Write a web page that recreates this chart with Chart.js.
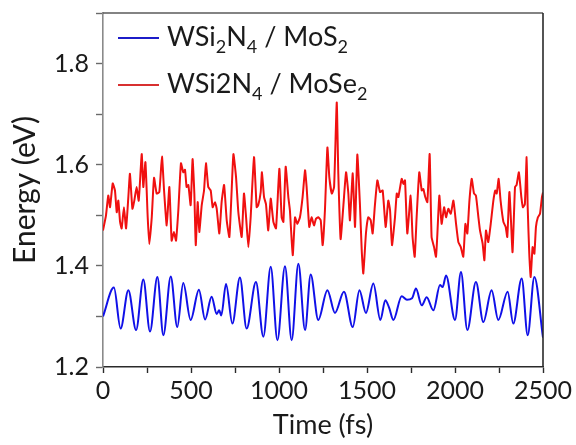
<!DOCTYPE html>
<html>
<head>
<meta charset="utf-8">
<script src="https://cdn.jsdelivr.net/npm/chart.js@4.4.0/dist/chart.umd.min.js"></script>
<style>
  html, body { margin: 0; padding: 0; background: #fff; }
  #wrap { width: 576px; height: 445px; position: relative; }
</style>
</head>
<body>
<div id="wrap"><canvas id="chart"></canvas></div>
<script>
// ---- data (time in fs, energy in eV) ----
const blueTime = [0, 62, 100, 144, 188, 229, 267, 309, 343, 385, 422, 456, 498, 545, 580, 617, 646, 660, 672, 699,
  735, 778, 816, 869, 911, 953, 991, 1034, 1072, 1110, 1148, 1180, 1223, 1275, 1318, 1369, 1419, 1457, 1494, 1536,
  1576, 1604, 1625, 1650, 1697, 1727, 1756, 1778, 1811, 1839, 1877, 1915, 1930, 1949, 2000, 2034, 2070, 2119, 2161,
  2208, 2246, 2299, 2331, 2379, 2413, 2451, 2500];
const blueEnergy = [1.300, 1.357, 1.276, 1.352, 1.273, 1.373, 1.270, 1.378, 1.263, 1.379, 1.279, 1.366, 1.293, 1.353,
  1.294, 1.339, 1.305, 1.312, 1.302, 1.364, 1.286, 1.377, 1.276, 1.368, 1.260, 1.398, 1.253, 1.399, 1.253, 1.404,
  1.273, 1.383, 1.293, 1.352, 1.307, 1.349, 1.279, 1.352, 1.307, 1.365, 1.293, 1.332, 1.318, 1.293, 1.340, 1.333,
  1.336, 1.355, 1.322, 1.338, 1.312, 1.362, 1.358, 1.381, 1.293, 1.388, 1.273, 1.368, 1.289, 1.352, 1.293, 1.349,
  1.286, 1.375, 1.263, 1.378, 1.258];

const redTime = [0, 17, 30, 40, 55, 68, 78, 87, 97, 106, 119, 131, 144, 153, 167, 178, 191, 203, 220, 229, 241, 254,
  263, 277, 290, 305, 320, 335, 347, 362, 377, 390, 403, 415, 428, 443, 456, 466, 475, 485, 498, 509, 519, 527, 538,
  547, 561, 574, 585, 598, 612, 623, 636, 646, 661, 674, 688, 703, 718, 731, 741, 756, 769, 788, 801, 813, 826, 839,
  858, 873, 882, 896, 903, 915, 926, 939, 953, 968, 983, 1002, 1015, 1025, 1038, 1053, 1062, 1078, 1091, 1104, 1119,
  1134, 1148, 1157, 1172, 1185, 1199, 1210, 1223, 1237, 1248, 1261, 1275, 1286, 1300, 1313, 1328, 1337, 1350, 1366,
  1381, 1394, 1403, 1419, 1432, 1445, 1460, 1470, 1479, 1494, 1507, 1521, 1532, 1545, 1559, 1574, 1589, 1606, 1621,
  1631, 1642, 1659, 1669, 1678, 1697, 1707, 1716, 1729, 1748, 1759, 1771, 1782, 1797, 1811, 1820, 1831, 1843, 1856,
  1867, 1881, 1892, 1900, 1911, 1924, 1938, 1949, 1962, 1976, 1991, 2006, 2019, 2033, 2047, 2059, 2070, 2082, 2095,
  2108, 2119, 2133, 2142, 2157, 2167, 2176, 2189, 2203, 2218, 2229, 2237, 2248, 2259, 2275, 2288, 2297, 2309, 2318,
  2327, 2341, 2350, 2363, 2377, 2386, 2397, 2407, 2413, 2422, 2430, 2441, 2451, 2460, 2471, 2483, 2494, 2500];
const redEnergy = [1.470, 1.500, 1.539, 1.516, 1.563, 1.549, 1.506, 1.529, 1.487, 1.474, 1.516, 1.474, 1.536, 1.582,
  1.513, 1.529, 1.556, 1.529, 1.621, 1.556, 1.605, 1.496, 1.443, 1.496, 1.574, 1.543, 1.546, 1.616, 1.549, 1.480,
  1.556, 1.450, 1.467, 1.450, 1.510, 1.603, 1.585, 1.590, 1.556, 1.560, 1.520, 1.611, 1.543, 1.441, 1.526, 1.467,
  1.520, 1.549, 1.603, 1.556, 1.549, 1.516, 1.526, 1.513, 1.464, 1.526, 1.560, 1.490, 1.457, 1.549, 1.621, 1.575,
  1.506, 1.457, 1.543, 1.496, 1.437, 1.496, 1.615, 1.516, 1.520, 1.546, 1.585, 1.536, 1.522, 1.470, 1.533, 1.487,
  1.474, 1.592, 1.496, 1.487, 1.596, 1.536, 1.510, 1.421, 1.496, 1.483, 1.496, 1.536, 1.589, 1.556, 1.477, 1.496,
  1.480, 1.493, 1.496, 1.490, 1.441, 1.510, 1.634, 1.575, 1.543, 1.556, 1.723, 1.582, 1.453, 1.520, 1.585, 1.543,
  1.490, 1.583, 1.477, 1.620, 1.520, 1.431, 1.385, 1.464, 1.496, 1.490, 1.464, 1.520, 1.569, 1.546, 1.549, 1.477,
  1.529, 1.510, 1.441, 1.496, 1.543, 1.536, 1.572, 1.562, 1.569, 1.464, 1.539, 1.457, 1.418, 1.496, 1.585, 1.549,
  1.552, 1.536, 1.526, 1.621, 1.457, 1.437, 1.418, 1.464, 1.539, 1.483, 1.516, 1.496, 1.513, 1.503, 1.529, 1.483,
  1.447, 1.437, 1.418, 1.483, 1.464, 1.529, 1.572, 1.543, 1.539, 1.496, 1.470, 1.444, 1.411, 1.470, 1.447, 1.483,
  1.529, 1.549, 1.543, 1.572, 1.529, 1.487, 1.477, 1.457, 1.546, 1.490, 1.427, 1.556, 1.560, 1.585, 1.536, 1.516,
  1.522, 1.615, 1.516, 1.424, 1.378, 1.437, 1.424, 1.477, 1.496, 1.503, 1.536, 1.545];

// legend text pieces: [text, isSubscript]
const blueLabel = [["WSi", 0], ["2", 1], ["N", 0], ["4", 1], [" / MoS", 0], ["2", 1]];
const redLabel = [["WSi2N", 0], ["4", 1], [" / MoSe", 0], ["2", 1]];

const FONT = "Lato, 'Open Sans', sans-serif";
const INK = "#1a1a1a";
const BLUE = "#1010e8";
const RED = "#f01010";

const toPoints = (xs, ys) => xs.map((x, i) => ({ x, y: ys[i] }));

function drawRich(ctx, parts, x, y, size) {
  let cx = x;
  parts.forEach(([txt, sub]) => {
    ctx.font = `${sub ? Math.round(size * 0.66) : size}px ${FONT}`;
    ctx.fillText(txt, cx, sub ? y + size * 0.26 : y);
    cx += ctx.measureText(txt).width;
  });
}

// frame (top/right) + legend drawn on top of the plot
const framePlugin = {
  id: "frame",
  afterDraw(chart) {
    const { ctx, chartArea: a } = chart;
    ctx.save();
    ctx.lineWidth = 1.6;
    ctx.strokeStyle = "#5a5a5a";
    ctx.beginPath(); ctx.moveTo(a.left, a.top); ctx.lineTo(a.right, a.top); ctx.stroke();
    ctx.strokeStyle = "#2a2a2a";
    ctx.beginPath(); ctx.moveTo(a.right, a.top); ctx.lineTo(a.right, a.bottom); ctx.stroke();

    // legend
    const items = [[blueLabel, "#1c1cc8", 38], [redLabel, "#d83030", 85]];
    ctx.textBaseline = "alphabetic";
    ctx.fillStyle = INK;
    items.forEach(([parts, col, ly]) => {
      ctx.strokeStyle = col;
      ctx.lineWidth = 1.8;
      ctx.beginPath(); ctx.moveTo(a.left + 15, ly); ctx.lineTo(a.left + 56, ly); ctx.stroke();
      drawRich(ctx, parts, a.left + 64, ly + 8, 27);
    });
    ctx.restore();
  },
};

new Chart(document.getElementById("chart"), {
  type: "line",
  data: {
    datasets: [
      {
        label: "WSi2N4 / MoS2",
        data: toPoints(blueTime, blueEnergy),
        borderColor: BLUE,
        borderWidth: 2,
        pointRadius: 0,
        cubicInterpolationMode: "monotone",
      },
      {
        label: "WSi2N4 / MoSe2",
        data: toPoints(redTime, redEnergy),
        borderColor: RED,
        borderWidth: 2,
        pointRadius: 0,
        tension: 0.15,
      },
    ],
  },
  options: {
    responsive: true,
    maintainAspectRatio: false,
    animation: false,
    layout: { padding: { left: 0, top: 13, right: 33, bottom: 0 } },
    plugins: { legend: { display: false }, tooltip: { enabled: false } },
    scales: {
      x: {
        type: "linear",
        min: 0,
        max: 2500,
        afterFit: (s) => { s.height = 78; s.paddingLeft = 0; s.paddingRight = 0; },
        border: { color: "#2a2a2a", width: 1.6 },
        grid: { drawOnChartArea: false, tickLength: 6, tickColor: "#2a2a2a", tickWidth: 1.4 },
        ticks: {
          stepSize: 250,
          autoSkip: false,
          maxRotation: 0,
          padding: 3,
          color: INK,
          font: { family: FONT, size: 25 },
          callback: (v) => (v % 500 === 0 ? String(v) : ""),
        },
        title: {
          display: true,
          text: "Time (fs)",
          color: INK,
          font: { family: FONT, size: 27 },
          padding: { top: 0, bottom: 4 },
        },
      },
      y: {
        min: 1.2,
        max: 1.9,
        afterFit: (s) => { s.width = 103; s.paddingTop = 0; s.paddingBottom = 0; },
        border: { color: "#8a8a8a", width: 1.6 },
        grid: { drawOnChartArea: false, tickLength: 7, tickColor: "#6a6a6a", tickWidth: 1.4 },
        ticks: {
          stepSize: 0.1,
          autoSkip: false,
          padding: 7,
          color: INK,
          font: { family: FONT, size: 25 },
          callback: (v) => {
            const k = Math.round(v * 10);
            return k % 2 === 0 && k < 19 ? (k / 10).toFixed(1) : "";
          },
        },
        title: {
          display: true,
          text: "Energy (eV)",
          color: INK,
          font: { family: FONT, size: 30 },
          padding: { top: 7, bottom: 0 },
        },
      },
    },
  },
  plugins: [framePlugin],
});
</script>
</body>
</html>
